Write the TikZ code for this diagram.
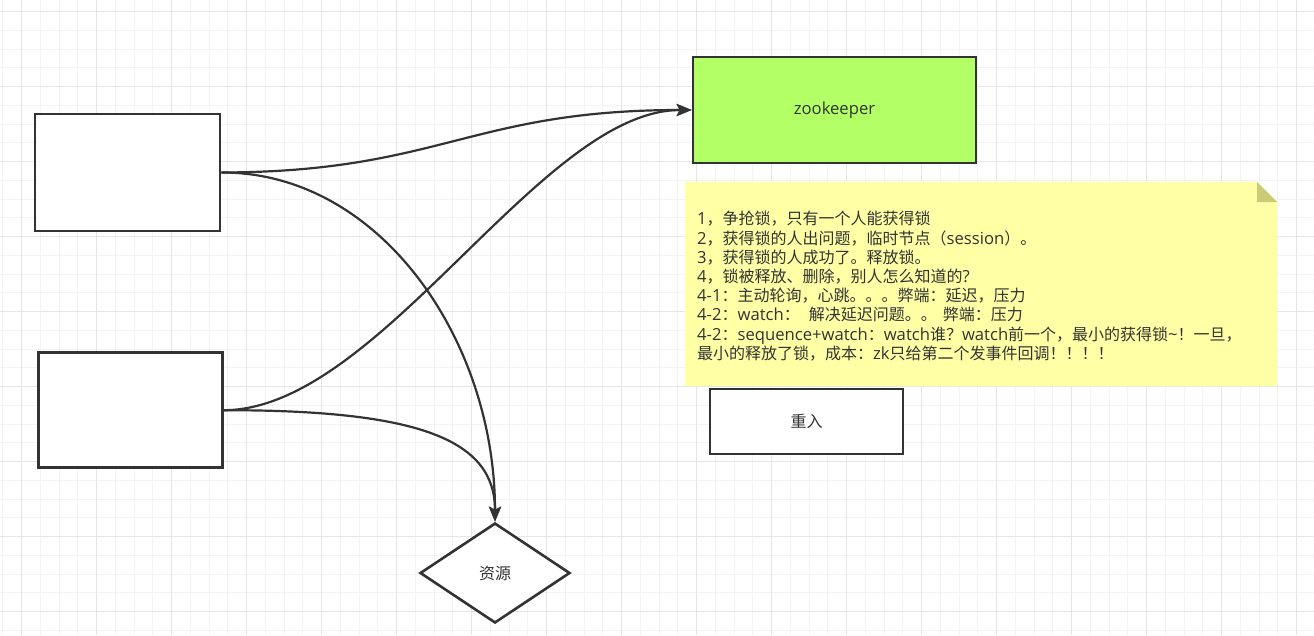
\documentclass[tikz,border=0pt]{standalone}
\usepackage{fontspec}
\setmainfont{Noto Sans CJK SC}
\newfontfamily\latf[Scale=1.04]{Open Sans}
\newcommand\la[1]{{\latf #1}}
\usetikzlibrary{arrows.meta,shapes.geometric}
\definecolor{ink}{HTML}{333333}
\definecolor{zkgreen}{HTML}{B3FF66}
\definecolor{notey}{HTML}{FFFFA6}
\definecolor{foldy}{HTML}{CCCC77}
\definecolor{gminor}{HTML}{F3F3F3}
\definecolor{gmajor}{HTML}{E6E6E6}
\tikzset{
  box/.style={draw=ink, line width=2.6pt, fill=white, inner sep=0pt, font=\fontsize{16}{19.2}\selectfont, text=ink},
  conn/.style={draw=ink, line width=2.2pt, -{Stealth[length=15pt,width=12pt,inset=3pt]}},
  gmin/.style={draw=gminor, line width=1pt},
  gmaj/.style={draw=gmajor, line width=1.2pt},
}
\begin{document}
\begin{tikzpicture}[x=1pt,y=-1pt]
\useasboundingbox[fill=white] (0,0) rectangle (1314,635);
% grid
\foreach \i in {0,...,69} {\draw[gmin] ({2.95+18.75*\i},0) -- ({2.95+18.75*\i},635);}
\foreach \i in {0,...,33} {\draw[gmin] (0,{11.7+18.75*\i}) -- (1314,{11.7+18.75*\i});}
\foreach \i in {0,...,17} {\draw[gmaj] ({21.7+75*\i},0) -- ({21.7+75*\i},635);}
\foreach \i in {0,...,8} {\draw[gmaj] (0,{11.7+75*\i}) -- (1314,{11.7+75*\i});}
% note
\fill[notey] (685,182) -- (1257,182) -- (1277,202) -- (1277,386) -- (685,386) -- cycle;
\fill[foldy] (1257,182) -- (1257,202) -- (1277,202) -- cycle;
\node[anchor=west, align=left, inner sep=0pt, text=ink, font=\fontsize{16}{19.2}\selectfont] (note) at (697,286.2) {%
\la{1}，争抢锁，只有一个人能获得锁\\
\la{2}，获得锁的人出问题，临时节点（\la{session}）。\\
\la{3}，获得锁的人成功了。释放锁。\\
\la{4}，锁被释放、删除，别人怎么知道的\la{?}\\
\la{4-1}：主动轮询，心跳。。。弊端：延迟，压力\\
\la{4-2}：\la{watch}：\hspace{9pt}解决延迟问题。。\hspace{6pt}弊端：压力\\
\la{4-2}：\la{sequence+watch}：\la{watch}谁？\la{watch}前一个，最小的获得锁\la{\textasciitilde}！一旦，\\
最小的释放了锁，成本：\la{zk}只给第二个发事件回调！！！！};
% nodes
\node[box, minimum width=185pt, minimum height=117pt] (b1) at (127.5,172.5) {};
\node[box, minimum width=184pt, minimum height=115pt] (b2) at (130.5,410.2) {};
\node[box, fill=zkgreen, minimum width=283pt, minimum height=106pt] (zk) at (834.5,110) {\la{zookeeper}};
\node[box, minimum width=193pt, minimum height=65pt] (re) at (806.5,421.5) {重入};
\node[box, diamond, aspect=1.5, minimum width=150pt, minimum height=100pt] (res) at (495,573) {资源};
% connectors
\draw[conn] (b1.east) .. controls (440,172) and (470,110) .. (zk.west);
\draw[conn] (b1.east) .. controls (380,172) and (495,340) .. (res.north);
\draw[conn] (b2.east) .. controls (380,410) and (540,110) .. (zk.west);
\draw[conn] (b2.east) .. controls (420,410) and (495,440) .. (res.north);
\end{tikzpicture}
\end{document}
